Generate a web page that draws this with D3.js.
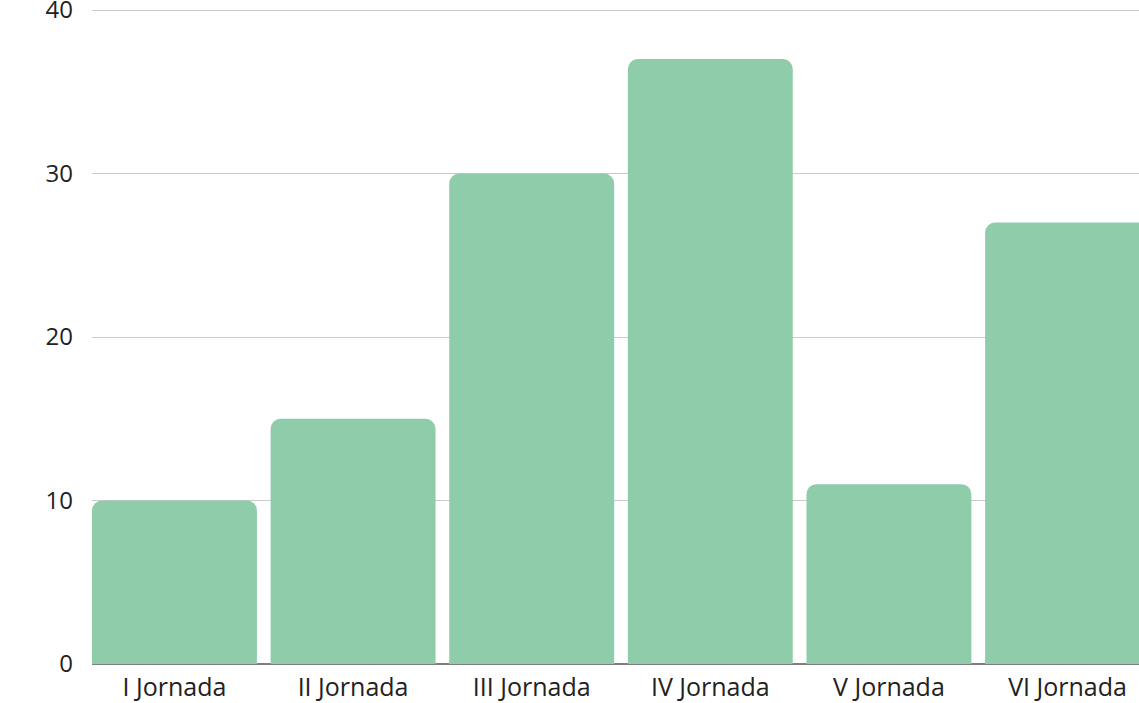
<!DOCTYPE html>
<html>
<head>
<meta charset="utf-8">
<script src="https://cdn.jsdelivr.net/npm/d3@7"></script>
<style>
  html, body { margin: 0; padding: 0; background: #fff; }
  svg { display: block; }
  text { font-family: "Open Sans", "Noto Sans", sans-serif; fill: #222; }
</style>
</head>
<body>
<svg id="chart" width="1139" height="703"></svg>
<script>
const categories = ["I Jornada", "II Jornada", "III Jornada", "IV Jornada", "V Jornada", "VI Jornada"];
const values = [10, 15, 30, 37, 11, 27];
const yTicks = [0, 10, 20, 30, 40];

const W = 1139, H = 703;
const svg = d3.select("#chart");

const x = d3.scaleBand()
  .domain(categories)
  .range([92, 1150])
  .paddingInner(0.0767)
  .paddingOuter(0);

const y = d3.scaleLinear().domain([0, 40]).range([664, 10]);

// gridlines
svg.append("g").selectAll("line")
  .data(yTicks.filter(d => d !== 0))
  .join("line")
  .attr("x1", 92).attr("x2", W)
  .attr("y1", d => y(d)).attr("y2", d => y(d))
  .attr("stroke", "#cccccc").attr("stroke-width", 1)
  .attr("shape-rendering", "crispEdges");

// baseline
svg.append("line")
  .attr("x1", 92).attr("x2", W)
  .attr("y1", y(0)).attr("y2", y(0))
  .attr("stroke", "#555").attr("stroke-width", 1.5);

// y tick labels
svg.append("g").selectAll("text")
  .data(yTicks)
  .join("text")
  .attr("x", 73)
  .attr("y", d => y(d))
  .attr("dy", "0.35em")
  .attr("text-anchor", "end")
  .attr("font-size", 24)
  .text(d => d);

// bars with rounded top
const r = 10;
function barPath(d, i) {
  const x0 = x(categories[i]), w = x.bandwidth();
  const top = y(d), bottom = y(0);
  const rr = Math.min(r, (bottom - top), w / 2);
  const p = d3.path();
  p.moveTo(x0, bottom);
  p.lineTo(x0, top + rr);
  p.arcTo(x0, top, x0 + rr, top, rr);
  p.lineTo(x0 + w - rr, top);
  p.arcTo(x0 + w, top, x0 + w, top + rr, rr);
  p.lineTo(x0 + w, bottom);
  p.closePath();
  return p.toString();
}
svg.append("g").selectAll("path")
  .data(values)
  .join("path")
  .attr("d", (d, i) => barPath(d, i))
  .attr("fill", "#8fccaa");

// x labels
svg.append("g").selectAll("text")
  .data(categories)
  .join("text")
  .attr("x", d => x(d) + x.bandwidth() / 2)
  .attr("y", 696)
  .attr("text-anchor", "middle")
  .attr("font-size", 25)
  .text(d => d);
</script>
</body>
</html>
